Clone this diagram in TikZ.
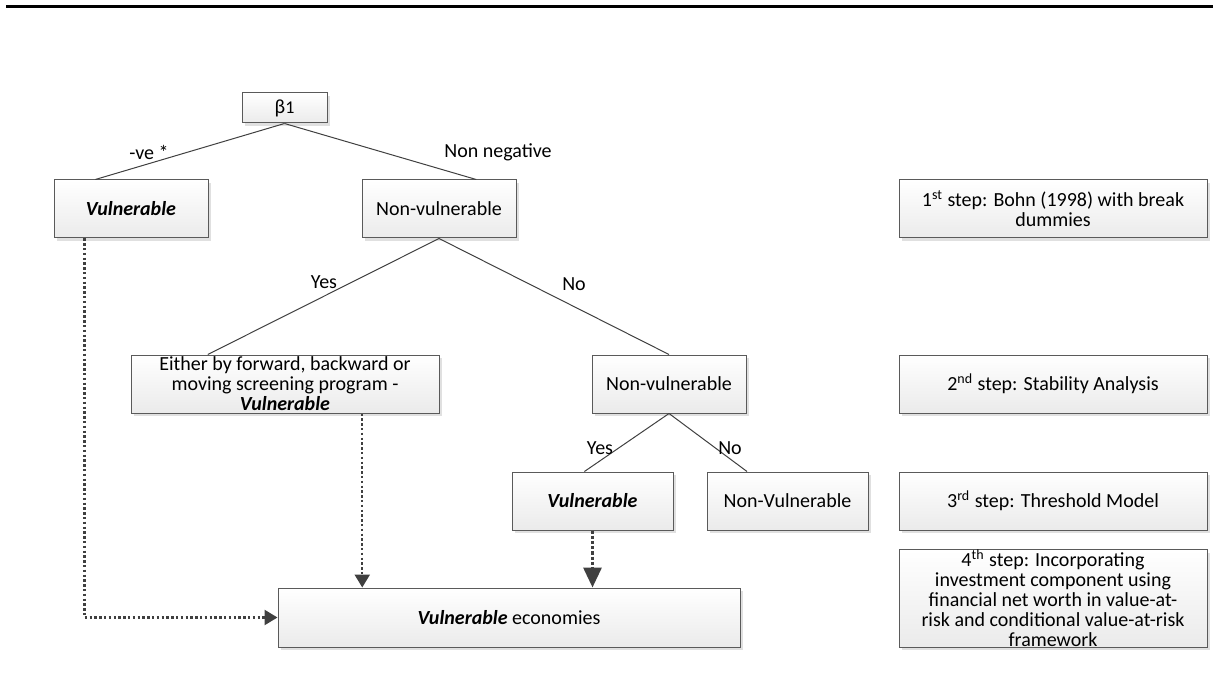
\documentclass[tikz,border=0pt]{standalone}
\usepackage{fontspec}
\setmainfont{Carlito}
\usepackage{tikz}
\usetikzlibrary{shapes.geometric, arrows, arrows.meta, positioning, calc, shadows}

\definecolor{boxline}{HTML}{5A5A5A}
\definecolor{dotline}{HTML}{404040}

\begin{document}
\begin{tikzpicture}[x=0.5pt, y=-0.5pt, font=\fontsize{10}{10}\selectfont,
  box/.style={draw=boxline, line width=0.5pt, rectangle, top color=white, bottom color=black!8,
    drop shadow={shadow xshift=1.5pt, shadow yshift=-1.5pt, fill=black!12, opacity=1},
    minimum width=77pt, minimum height=29pt, inner sep=1pt, align=center},
  stepbox/.style={box, minimum width=154pt},
  link/.style={draw=dotline, line width=0.5pt},
  dotarrow/.style={draw=dotline, line width=1.2pt, dash pattern=on 1.2pt off 1.2pt, -{Triangle[length=6.5pt, width=7.5pt]}}]
\useasboundingbox (0,0) rectangle (1213,673);
\draw[line width=1.5pt] (6,7) -- (1213,7);

% Decision tree
\node[box, minimum width=42.5pt, minimum height=15pt] (beta) at (284.5,108) {β{\small 1}};
\node[box] (vul) at (131,209) {\textbf{\textit{Vulnerable}}};
\node[box] (nonvul) at (439,209) {Non-vulnerable};
\node[box, minimum width=154pt, inner ysep=0pt] (either) at (285,384) {Either by forward, backward or\\moving screening program -\\\textbf{\textit{Vulnerable}}};
\node[box] (nonvulb) at (669,384) {Non-vulnerable};
\node[box, minimum width=80.5pt] (vulc) at (592.5,501) {\textbf{\textit{Vulnerable}}};
\node[box, minimum width=80.5pt] (nonvulc) at (787.5,501) {Non-Vulnerable};
\node[box, minimum width=231pt, minimum height=29.5pt] (econ) at (509,617.5) {\textbf{\textit{Vulnerable}} economies};

\draw[link] (beta.south) -- ($(vul.north west)!0.27!(vul.north east)$);
\draw[link] (beta.south) -- ($(nonvul.north west)!0.74!(nonvul.north east)$);
\draw[link] (nonvul.south) -- ($(either.north west)!0.25!(either.north east)$);
\draw[link] (nonvul.south) -- (nonvulb.north);
\draw[link] (nonvulb.south) -- ($(vulc.north west)!0.45!(vulc.north east)$);
\draw[link] (nonvulb.south) -- ($(nonvulc.north west)!0.25!(nonvulc.north east)$);

% Branch labels
\node (neg) at (149,152) {-ve *};
\node (nonneg) at (498,152) {Non negative};
\node (yesa) at (324,282) {Yes};
\node (noa) at (574,284) {No};
\node (yesb) at (600,448) {Yes};
\node (nob) at (730,448) {No};

% Into vulnerable economies
\coordinate (va) at ($(vul.south west)!0.2!(vul.south east)$);
\coordinate (ea) at ($(either.south west)!0.75!(either.south east)$);
\draw[dotarrow] (va) |- (econ.west);
\draw[dotarrow] (ea) -- (ea |- econ.north);
\draw[dotarrow, line width=1.6pt, dash pattern=on 1.6pt off 1pt, -{Triangle[length=10pt, width=9pt]}] (vulc.south) -- (vulc.south |- econ.north);

% Steps
\node[stepbox] (sa) at (1053,209) {1\textsuperscript{st} step: Bohn (1998) with break\\dummies};
\node[stepbox] (sb) at (1053,384) {2\textsuperscript{nd} step: Stability Analysis};
\node[stepbox] (sc) at (1053,501) {3\textsuperscript{rd} step: Threshold Model};
\node[stepbox, minimum height=48.5pt, inner ysep=0pt] (sd) at (1053,598.5) {4\textsuperscript{th} step: Incorporating\\investment component using\\financial net worth in value-at-\\risk and conditional value-at-risk\\framework};
\end{tikzpicture}
\end{document}
